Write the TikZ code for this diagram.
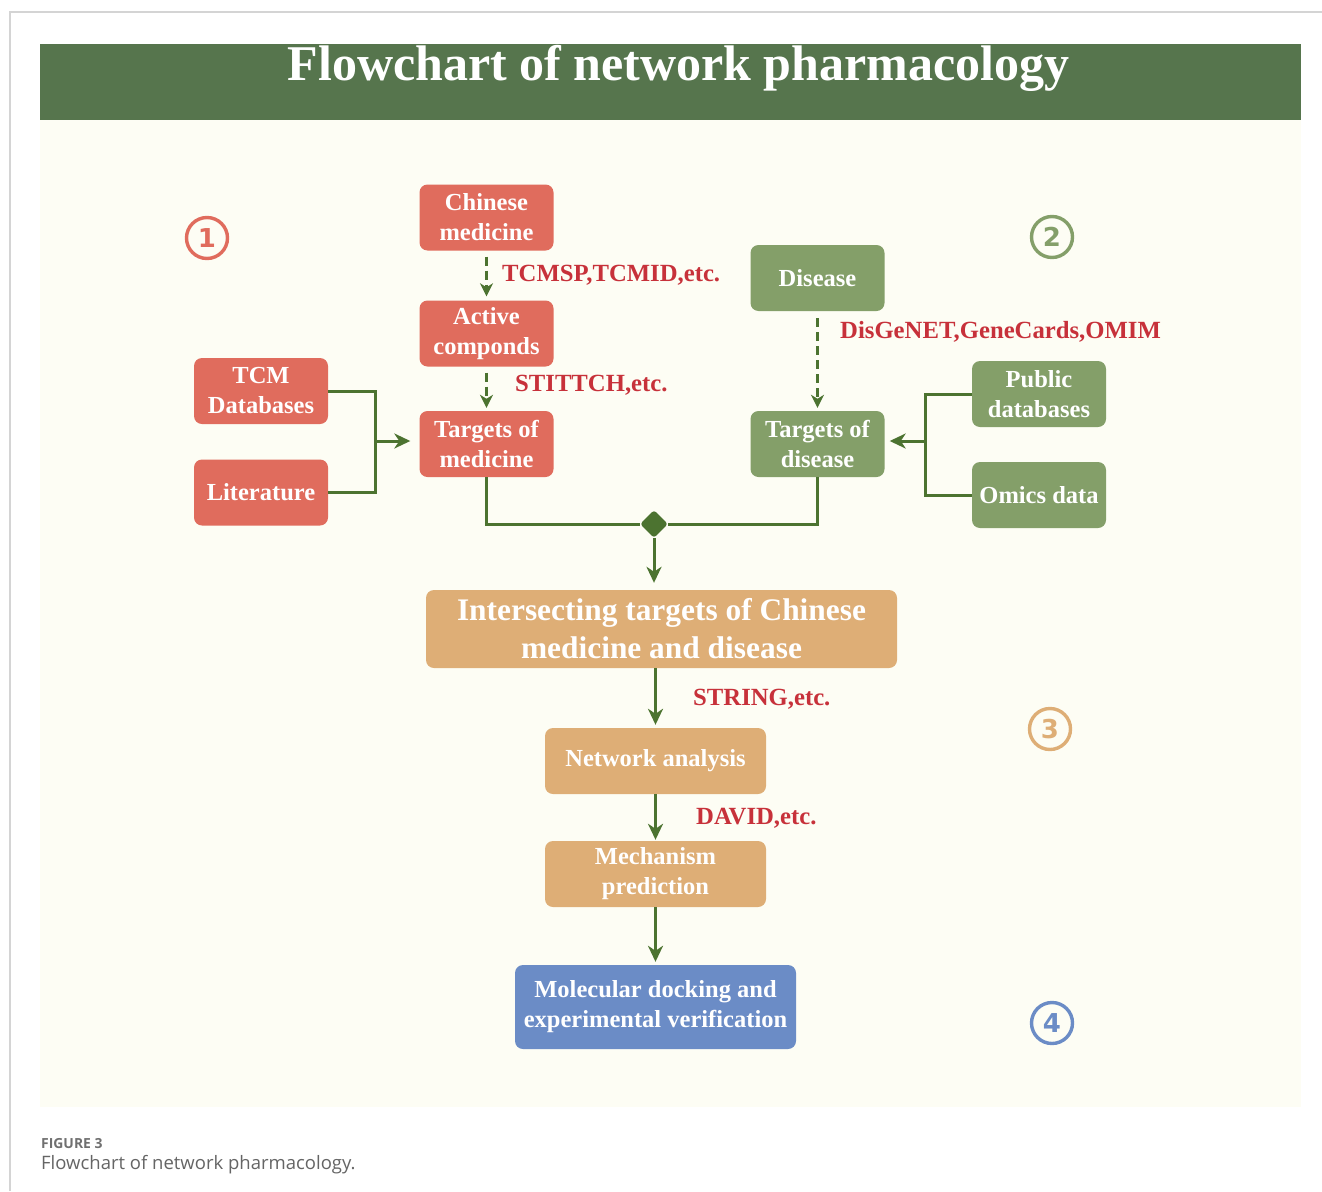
\documentclass[tikz,border=0pt]{standalone}
\usepackage{fontspec}
\setmainfont{Liberation Serif}
\newfontfamily\capfont{Open Sans}
\newfontfamily\markfont{DejaVu Sans}
\usetikzlibrary{arrows.meta,shapes.geometric}

\definecolor{band}{HTML}{56754D}
\definecolor{panel}{HTML}{FDFDF4}
\definecolor{boxred}{HTML}{E06C5D}
\definecolor{boxgreen}{HTML}{849F69}
\definecolor{boxorange}{HTML}{DEAE76}
\definecolor{boxblue}{HTML}{6B8CC6}
\definecolor{linkgreen}{HTML}{4C7330}
\definecolor{dbred}{HTML}{C7313A}
\definecolor{frame}{HTML}{D4D4D4}
\definecolor{capgray}{HTML}{707070}

\tikzset{
  box/.style={rectangle, rounded corners=8pt, text=white, align=center, inner sep=0pt,
    font=\bfseries\fontsize{24.5}{30}\selectfont},
  smallbox/.style={box, minimum width=134pt, minimum height=66pt},
  link/.style={draw=linkgreen, line width=3pt},
  arrowlink/.style={link, -{Stealth[length=16pt, width=15pt, inset=5pt]}},
  dasharrow/.style={link, dash pattern=on 9pt off 5pt, -{Stealth[length=13pt, width=13pt, inset=4pt]}},
  dblabel/.style={text=dbred, font=\bfseries\fontsize{24.7}{30}\selectfont, inner sep=0pt},
  stagemark/.style={circle, draw=#1, text=#1, line width=3.4pt, minimum size=41pt, inner sep=0pt,
    font=\markfont\bfseries\fontsize{26}{26}\selectfont}
}

\begin{document}
\begin{tikzpicture}[x=1pt, y=-1pt]
% page, frame and panels
\fill[white] (0,0) rectangle (1322,1191);
\useasboundingbox (0,0) rectangle (1322,1191);
\draw[frame, line width=1.2pt] (10,1191) -- (10,12) -- (1322,12);
\fill[panel] (40,120) rectangle (1301,1107);
\fill[band] (40,44) rectangle (1301,120);
\node[anchor=base, text=white, inner sep=0pt, font=\bfseries\fontsize{50}{50}\selectfont]
  (title) at (678.5,80) {Flowchart of network pharmacology};

% stage markers
\node[stagemark=boxred] (s1) at (207,238) {1};
\node[stagemark=boxgreen] (s2) at (1052,237) {2};
\node[stagemark=boxorange] (s3) at (1050,729) {3};
\node[stagemark=boxblue] (s4) at (1052,1023) {4};

% medicine branch
\node[smallbox, fill=boxred] (cm) at (486.5,217.5) {Chinese\\medicine};
\node[smallbox, fill=boxred] (ac) at (486.5,333.5) {Active\\componds};
\node[smallbox, fill=boxred] (tm) at (486.5,444) {Targets of\\medicine};
\node[smallbox, fill=boxred] (tcm) at (261,391) {TCM\\Databases};
\node[smallbox, fill=boxred] (lit) at (261,492.5) {Literature};

% disease branch
\node[smallbox, fill=boxgreen] (dis) at (817.5,278) {Disease};
\node[smallbox, fill=boxgreen] (td) at (817.5,444) {Targets of\\disease};
\node[smallbox, fill=boxgreen] (pub) at (1039,394) {Public\\databases};
\node[smallbox, fill=boxgreen] (omi) at (1039,495) {Omics data};

% common steps
\node[box, fill=boxorange, minimum width=471pt, minimum height=78pt,
  font=\bfseries\fontsize{31.4}{38}\selectfont] (inter) at (661.5,629)
  {Intersecting targets of Chinese\\medicine and disease};
\node[box, fill=boxorange, minimum width=221pt, minimum height=66pt] (net) at (655.5,761) {Network analysis};
\node[box, fill=boxorange, minimum width=221pt, minimum height=66pt] (mech) at (655.5,874) {Mechanism\\prediction};
\node[box, fill=boxblue, minimum width=281pt, minimum height=84pt] (dock) at (655.5,1007)
  {Molecular docking and\\experimental verification};

% database labels
\node[dblabel, anchor=west] (l1) at (502,275) {TCMSP,TCMID,etc.};
\node[dblabel, anchor=west] (l2) at (515,385) {STITTCH,etc.};
\node[dblabel, anchor=west] (l3) at (840,332) {DisGeNET,GeneCards,OMIM};
\node[dblabel, anchor=west] (l4) at (693,699) {STRING,etc.};
\node[dblabel, anchor=west] (l5) at (696,818) {DAVID,etc.};

% junction points
\coordinate (jm) at (375,441);
\coordinate (jd) at (925,441);
\node[diamond, fill=linkgreen, minimum size=28pt, inner sep=0pt, rounded corners=3pt] (dia) at (654,524) {};

% connectors
\draw[dasharrow, shorten <=6pt, shorten >=4pt] (cm) -- (ac);
\draw[dasharrow, shorten <=6pt, shorten >=3pt] (ac) -- (tm);
\draw[dasharrow, shorten <=7pt, shorten >=3pt] (dis) -- (td);
\draw[link] (tcm.east) -| (jm) |- (lit.east);
\draw[arrowlink, shorten >=9pt] (jm) -- (jm -| tm.west);
\draw[link] (pub.west) -| (jd) |- (omi.west);
\draw[arrowlink, shorten >=5pt] (jd) -- (jd -| td.east);
\draw[link] (tm.south) |- (dia.west);
\draw[link] (td.south) |- (dia.east);
\draw[arrowlink, shorten >=7pt] (dia.south) -- (dia.south |- inter.north);
\draw[arrowlink, shorten >=3pt] (net.north |- inter.south) -- (net.north);
\draw[arrowlink, shorten >=1pt] (net.south) -- (mech.north);
\draw[arrowlink, shorten >=3pt] (mech.south) -- (dock.north);

% caption
\node[anchor=base west, inner sep=0pt, text=capgray, font=\capfont\bfseries\fontsize{13.9}{14}\selectfont]
  (fig) at (41,1148) {FIGURE 3};
\node[anchor=base west, inner sep=0pt, text=capgray!90!black, font=\capfont\fontsize{18.5}{19}\selectfont]
  (cap) at (41,1169) {Flowchart of network pharmacology.};
\end{tikzpicture}
\end{document}
